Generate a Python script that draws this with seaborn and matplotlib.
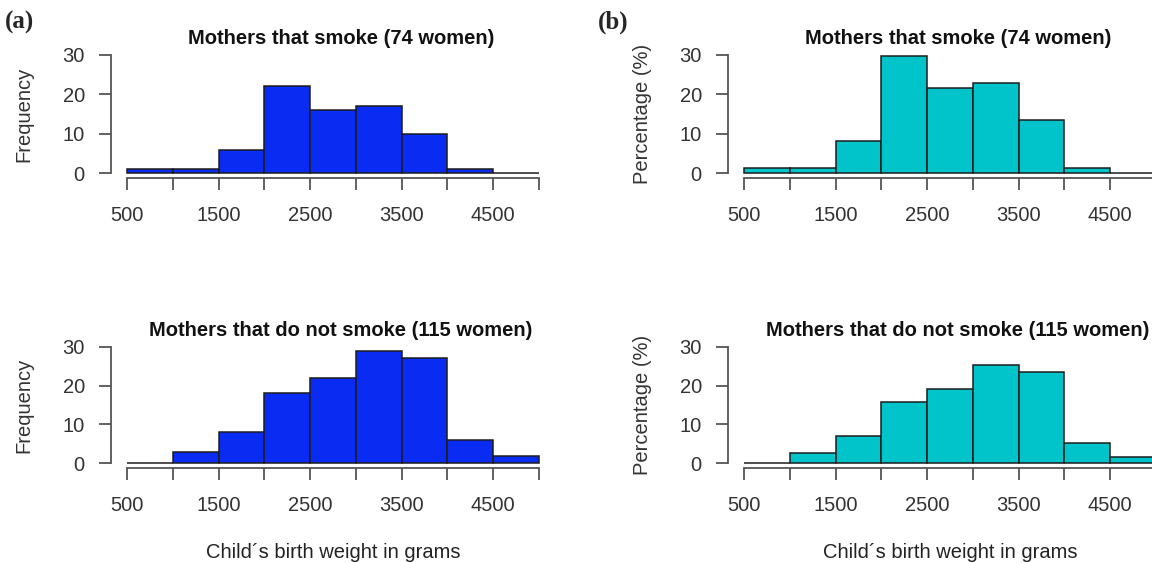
import numpy as np
import matplotlib
matplotlib.use("Agg")
import matplotlib.pyplot as plt
import seaborn as sns

# histogram bins (grams) and counts
bin_edges = [500, 1000, 1500, 2000, 2500, 3000, 3500, 4000, 4500, 5000]
smoke_counts = [1, 1, 6, 22, 16, 17, 10, 1, 0]
nonsmoke_counts = [0, 3, 8, 18, 22, 29, 27, 6, 2]

x_ticks = [500, 1000, 1500, 2000, 2500, 3000, 3500, 4000, 4500, 5000]
x_labels = ["500", "", "1500", "", "2500", "", "3500", "", "4500", ""]
y_ticks = [0, 10, 20, 30]

titles = ["Mothers that smoke (74 women)", "Mothers that do not smoke (115 women)"]
xlabel = "Child\u00b4s birth weight in grams"

sns.set_style("ticks")
plt.rcParams["font.family"] = ["Liberation Sans", "DejaVu Sans"]

W, H = 1152, 563
fig = plt.figure(figsize=(W / 100, H / 100), dpi=100)


def px_axes(x0, y0, x1, y1):
    return fig.add_axes([x0 / W, 1 - y1 / H, (x1 - x0) / W, (y1 - y0) / H])


mids = [(a + b) / 2 for a, b in zip(bin_edges[:-1], bin_edges[1:])]

panels = [
    # (box, counts, stat, colour, title)
    ((110.5, 50, 555.5, 178), smoke_counts, "count", "#0a2cf2", titles[0]),
    ((727.5, 50, 1172.5, 178), smoke_counts, "percent", "#00c4c9", titles[0]),
    ((110.5, 342, 555.5, 468), nonsmoke_counts, "count", "#0a2cf2", titles[1]),
    ((727.5, 342, 1172.5, 468), nonsmoke_counts, "percent", "#00c4c9", titles[1]),
]

FS = 14.5

axes = []
for box, counts, stat, col, title in panels:
    ax = px_axes(*box)
    sns.histplot(x=mids, weights=counts, bins=bin_edges, stat=stat, color=col,
                 alpha=1, edgecolor="#1c1c1c", linewidth=1.1, ax=ax)
    ax.set_xlim(320, 5180)
    ax.set_ylim(-1.2, 31.2)
    ax.set_xticks(x_ticks)
    ax.set_xticklabels(x_labels)
    ax.set_yticks(y_ticks)
    ax.set_xlabel("")
    ax.set_ylabel("")
    for s in ["top", "right"]:
        ax.spines[s].set_visible(False)
    ax.spines["left"].set_bounds(0, 30)
    ax.spines["bottom"].set_bounds(500, 5000)
    for s in ["left", "bottom"]:
        ax.spines[s].set_color("#555555")
        ax.spines[s].set_linewidth(1.3)
    ax.tick_params(axis="both", direction="out", length=8.5, width=1.3,
                   color="#555555", labelsize=FS, labelcolor="#333333")
    ax.tick_params(axis="x", pad=12)
    ax.tick_params(axis="y", pad=10)
    ax.set_title(title, fontsize=FS, fontweight="bold", pad=4, color="#111111", x=0.518)
    axes.append(ax)

# y labels
for x, y, lab in [(24, 114, "Frequency"), (643, 114, "Percentage (%)"),
                  (24, 405, "Frequency"), (643, 405, "Percentage (%)")]:
    fig.text(x / W, 1 - y / H, lab, rotation=90, ha="center", va="center",
             fontsize=FS, color="#333333")

# x labels under the bottom row
fig.text(333 / W, 1 - 552 / H, xlabel, ha="center", va="center", fontsize=FS, color="#222222")
fig.text(950 / W, 1 - 552 / H, xlabel, ha="center", va="center", fontsize=FS, color="#222222")

# panel letters
fig.text(5 / W, 1 - 22 / H, "(a)", ha="left", va="center", fontsize=18, fontweight="bold",
         family=["Liberation Serif", "DejaVu Serif"])
fig.text(598 / W, 1 - 22 / H, "(b)", ha="left", va="center", fontsize=18, fontweight="bold",
         family=["Liberation Serif", "DejaVu Serif"])

fig.savefig("out.png", dpi=100)
